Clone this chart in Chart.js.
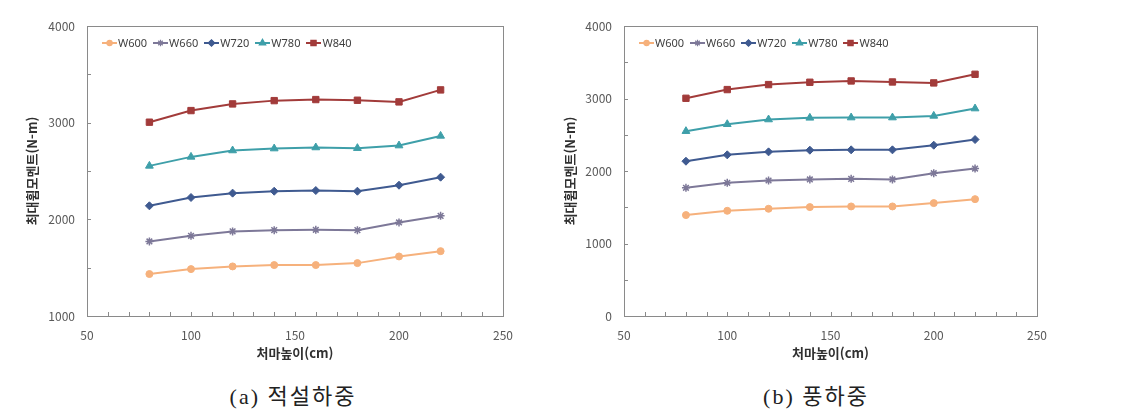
<!DOCTYPE html>
<html lang="ko">

<head>
    <meta charset="UTF-8">
    <title>최대휨모멘트</title>
    <script src="https://cdn.jsdelivr.net/npm/chart.js"></script>
    <style>
        body { margin: 0; background: #fff; width: 1126px; height: 413px; position: relative; overflow: hidden; }
        .box { position: absolute; top: 0; }
        .caption { position: absolute; top: 378px; font-family: "Liberation Serif", "Noto Sans CJK KR", serif; font-size: 22px; letter-spacing: 2px; color: #222; white-space: nowrap; transform: translateX(-50%); }
        .legend { position: absolute; display: flex; align-items: center; font-family: "Noto Sans", sans-serif; font-size: 11px; color: #404040; line-height: 14px; }
        .legend .item { display: flex; align-items: center; margin-right: 6px; }
        .legend canvas { margin-right: 1px; }
    </style>
</head>

<body>
    <div class="box" style="left:0"><canvas id="snowChart" width="560" height="370"></canvas><div class="legend" id="snowLegend"></div></div>
    <div class="box" style="left:560px"><canvas id="windChart" width="566" height="370"></canvas><div class="legend" id="windLegend"></div></div>
    <div class="caption" style="left:293px">(a)&nbsp;적설하중</div>
    <div class="caption" style="left:816px">(b)&nbsp;풍하중</div>

    <script>
        // eave height (cm)
        const heights = [80, 100, 120, 140, 160, 180, 200, 220];
        const seriesNames = ['W600', 'W660', 'W720', 'W780', 'W840'];

        // (a) snow load, max bending moment (N-m)
        const snowW600 = [1434, 1485, 1513, 1527, 1527, 1547, 1616, 1671];
        const snowW660 = [1771, 1830, 1875, 1888, 1892, 1888, 1968, 2036];
        const snowW720 = [2140, 2226, 2271, 2291, 2298, 2291, 2353, 2436];
        const snowW780 = [2553, 2646, 2712, 2732, 2743, 2736, 2763, 2863];
        const snowW840 = [3005, 3125, 3194, 3228, 3239, 3232, 3215, 3339];

        // (b) wind load
        const windW600 = [1392, 1451, 1479, 1502, 1511, 1511, 1557, 1612];
        const windW660 = [1768, 1837, 1869, 1883, 1892, 1883, 1970, 2034];
        const windW720 = [2135, 2223, 2264, 2287, 2292, 2292, 2356, 2434];
        const windW780 = [2549, 2645, 2710, 2733, 2737, 2737, 2760, 2861];
        const windW840 = [3003, 3123, 3192, 3224, 3242, 3228, 3215, 3334];

        const colors = ['#f6b17c', '#7d7898', '#3f5a90', '#3e9fa9', '#a23b3a'];
        const markers = ['circle', 'star', 'rectRot', 'triangle', 'rect'];
        const radii = [3.5, 4, 4, 4.5, 4.5];

        const tickFont = { family: '"Noto Sans CJK KR", "Noto Sans", sans-serif', size: 12 };
        const titleFont = { family: '"Noto Sans CJK KR", sans-serif', size: 13, weight: 'bold' };

        // little legend swatch: line with the marker on top
        function swatch(i) {
            const c = document.createElement('canvas');
            c.width = 15; c.height = 10;
            const g = c.getContext('2d');
            g.strokeStyle = colors[i]; g.lineWidth = 2;
            g.beginPath(); g.moveTo(0, 5); g.lineTo(15, 5); g.stroke();
            g.fillStyle = colors[i]; g.lineWidth = 1.2;
            Chart.helpers.drawPoint(g, { pointStyle: markers[i], radius: radii[i] - 0.8, borderWidth: 1.2 }, 7.5, 5);
            g.fill();
            return c;
        }

        function buildLegend(el, chart) {
            seriesNames.forEach((name, i) => {
                const item = document.createElement('div');
                item.className = 'item';
                item.appendChild(swatch(i));
                const span = document.createElement('span');
                span.textContent = name;
                item.appendChild(span);
                el.appendChild(item);
            });
            el.style.left = (chart.chartArea.left + 15) + 'px';
            el.style.top = (chart.chartArea.top + 10) + 'px';
        }

        // plot frame and inward tick marks
        const frame = {
            id: 'frame',
            beforeDatasetsDraw(chart) {
                const { ctx, chartArea: a, scales: { x, y } } = chart;
                ctx.save();
                ctx.strokeStyle = '#8a8a8a';
                ctx.lineWidth = 1;
                ctx.strokeRect(Math.round(a.left) + 0.5, Math.round(a.top) + 0.5, Math.round(a.width), Math.round(a.height));
                ctx.beginPath();
                x.ticks.forEach(t => {
                    const px = Math.round(x.getPixelForValue(t.value)) + 0.5;
                    ctx.moveTo(px, a.bottom); ctx.lineTo(px, a.bottom - 4);
                });
                y.ticks.forEach(t => {
                    const py = Math.round(y.getPixelForValue(t.value)) + 0.5;
                    ctx.moveTo(a.left, py); ctx.lineTo(a.left + 4, py);
                });
                ctx.stroke();
                ctx.restore();
            }
        };

        function makeChart(id, series, yMin, cfg) {
            const datasets = series.map((vals, i) => ({
                label: seriesNames[i],
                data: heights.map((h, k) => ({ x: h, y: vals[k] })),
                borderColor: colors[i],
                backgroundColor: colors[i],
                borderWidth: 2,
                pointStyle: markers[i],
                pointRadius: radii[i],
                pointBorderWidth: markers[i] === 'star' ? 1.5 : 1,
                tension: 0
            }));

            return new Chart(document.getElementById(id), {
                type: 'line',
                data: { datasets },
                options: {
                    responsive: false,
                    animation: false,
                    layout: { padding: { left: 0, top: 26, right: cfg.right, bottom: 0 } },
                    plugins: {
                        tooltip: { enabled: false },
                        legend: { display: false }
                    },
                    scales: {
                        x: {
                            type: 'linear',
                            min: 50, max: 250,
                            grid: { display: false, drawTicks: false },
                            border: { display: false },
                            ticks: {
                                stepSize: 10, autoSkip: false, maxRotation: 0, padding: 12,
                                color: '#595959', font: tickFont,
                                callback: v => v % 50 === 0 ? v : ''
                            },
                            title: { display: true, text: '처마높이(cm)', color: '#303030', font: titleFont, padding: { top: 0, bottom: 9 } },
                            afterFit: s => { s.height = 54; }
                        },
                        y: {
                            min: yMin, max: 4000,
                            grid: { display: false, drawTicks: false },
                            border: { display: false },
                            ticks: {
                                stepSize: 500, autoSkip: false, padding: 12,
                                color: '#595959', font: tickFont,
                                callback: v => v % 1000 === 0 ? v : ''
                            },
                            title: { display: true, text: '최대휨모멘트(N-m)', color: '#303030', font: titleFont, padding: { top: cfg.titlePad, bottom: 0 } },
                            afterFit: s => { s.width = cfg.left; }
                        }
                    }
                },
                plugins: [frame]
            });
        }

        const snowChart = makeChart('snowChart', [snowW600, snowW660, snowW720, snowW780, snowW840], 1000, { left: 87, right: 57, titlePad: 24 });
        const windChart = makeChart('windChart', [windW600, windW660, windW720, windW780, windW840], 0, { left: 64, right: 89, titlePad: 2 });
        buildLegend(document.getElementById('snowLegend'), snowChart);
        buildLegend(document.getElementById('windLegend'), windChart);
    </script>
</body>

</html>
